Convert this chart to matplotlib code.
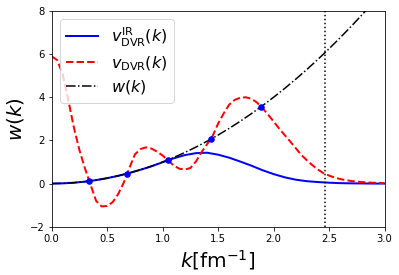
import matplotlib
matplotlib.use("Agg")
import matplotlib.pyplot as plt

# momentum grid for the smooth curves
k_fine = [0.0, 0.1, 0.2, 0.3, 0.4, 0.5, 0.6, 0.7, 0.8, 0.9, 1.0,
          1.1, 1.2, 1.3, 1.4, 1.5, 1.6, 1.7, 1.8, 1.9, 2.0,
          2.1, 2.2, 2.3, 2.4, 2.5, 2.6, 2.7, 2.8, 2.9, 3.0]
w_vals = [0.0, 0.01, 0.04, 0.09, 0.16, 0.25, 0.36, 0.49, 0.64, 0.81, 1.0,
          1.21, 1.44, 1.69, 1.96, 2.25, 2.56, 2.89, 3.24, 3.61, 4.0,
          4.41, 4.84, 5.29, 5.76, 6.25, 6.76, 7.29, 7.84, 8.41, 9.0]
v_ir = [0.0, 0.01, 0.04, 0.09, 0.16, 0.25, 0.36, 0.49, 0.64, 0.80, 0.99,
        1.17, 1.32, 1.41, 1.43, 1.34, 1.20, 1.02, 0.83, 0.62, 0.44,
        0.29, 0.18, 0.11, 0.07, 0.04, 0.02, 0.01, 0.005, 0.0, 0.0]

k_dvr = [0.0, 0.05, 0.1, 0.15, 0.2, 0.25, 0.3, 0.35, 0.4, 0.45, 0.5,
         0.55, 0.6, 0.65, 0.7, 0.75, 0.8, 0.85, 0.9, 0.95, 1.0,
         1.05, 1.1, 1.15, 1.2, 1.25, 1.3, 1.35, 1.4, 1.45, 1.5,
         1.55, 1.6, 1.65, 1.7, 1.75, 1.8, 1.85, 1.9, 1.95, 2.0,
         2.05, 2.1, 2.15, 2.2, 2.25, 2.3, 2.35, 2.4, 2.45, 2.5,
         2.55, 2.6, 2.65, 2.7, 2.75, 2.8, 2.85, 2.9, 2.95, 3.0]
v_dvr = [5.90, 5.72, 5.05, 3.85, 2.60, 1.55, 0.70, -0.05, -0.80, -1.06, -1.04,
         -0.86, -0.48, 0.05, 0.72, 1.35, 1.60, 1.68, 1.62, 1.48, 1.30,
         1.07, 0.84, 0.69, 0.65, 0.72, 1.02, 1.45, 1.82, 2.20, 2.78,
         3.25, 3.66, 3.88, 3.98, 4.00, 3.93, 3.76, 3.50, 3.20, 2.88,
         2.55, 2.25, 1.95, 1.64, 1.33, 1.08, 0.85, 0.65, 0.48, 0.37,
         0.28, 0.21, 0.16, 0.12, 0.09, 0.07, 0.05, 0.04, 0.03, 0.02]

# DVR mesh points
k_mesh = [0.339, 0.681, 1.045, 1.432, 1.886]
w_mesh = [0.115, 0.464, 1.092, 2.05, 3.557]

k_cut = 2.465

fig = plt.figure(figsize=(399 / 72, 275 / 72), dpi=72)
ax = fig.add_axes([0.1296, 0.1756, 0.8341, 0.7844])

ax.plot(k_fine, v_ir, color="blue", lw=2, label=r"$v^{\rm IR}_{\rm DVR}(k)$")
ax.plot(k_dvr, v_dvr, color="red", lw=2, ls="--", label=r"$v_{\rm DVR}(k)$")
ax.plot(k_fine, w_vals, color="black", lw=1.5, ls="-.", label=r"$w(k)$")
ax.plot(k_mesh, w_mesh, "o", color="blue", ms=5.5, zorder=5)
ax.axvline(k_cut, color="black", ls=":", lw=1.5)

ax.set_xlim(0, 3)
ax.set_ylim(-2, 8)
ax.set_xlabel(r"$k[\mathrm{fm}^{-1}]$", fontsize=20)
ax.set_ylabel(r"$w(k)$", fontsize=20)
ax.legend(loc="upper left", fontsize=16, labelspacing=0.35)

fig.savefig("out.png", dpi=72)
